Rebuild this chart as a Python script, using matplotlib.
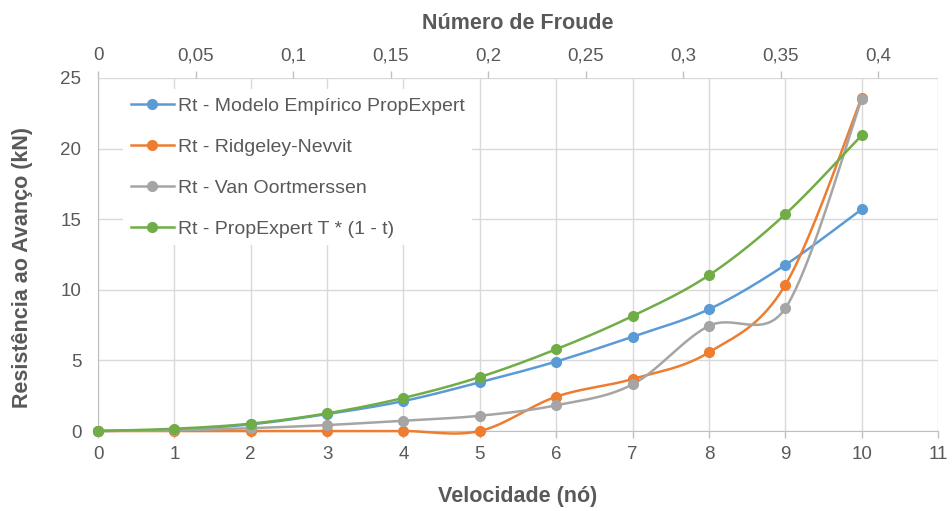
import numpy as np
import matplotlib
matplotlib.use("Agg")
import matplotlib.pyplot as plt
from matplotlib.ticker import FixedLocator, FuncFormatter

plt.rcParams['font.family'] = ['Liberation Sans', 'DejaVu Sans']

# Velocidade (nós) e resistência ao avanço (kN)
velocidade = [0, 1, 2, 3, 4, 5, 6, 7, 8, 9, 10]
rt_propexpert = [0.0, 0.1, 0.47, 1.2, 2.12, 3.45, 4.92, 6.68, 8.62, 11.76, 15.7]
rt_ridgeley = [0.0, 0.0, 0.0, 0.0, 0.0, 0.0, 2.43, 3.68, 5.57, 10.34, 23.6]
rt_oortmerssen = [0.0, 0.05, 0.2, 0.42, 0.73, 1.08, 1.82, 3.3, 7.44, 8.69, 23.5]
rt_thrust = [0.0, 0.16, 0.52, 1.25, 2.34, 3.82, 5.79, 8.14, 11.03, 15.35, 20.94]

series_labels = [
    "Rt - Modelo Empírico PropExpert",
    "Rt - Ridgeley-Nevvit",
    "Rt - Van Oortmerssen",
    "Rt - PropExpert T * (1 - t)",
]
series_colors = ["#5B9BD5", "#ED7D31", "#A5A5A5", "#70AD47"]

# Número de Froude por nó de velocidade
froude_per_knot = 0.03914
froude_ticks = [0, 0.05, 0.1, 0.15, 0.2, 0.25, 0.3, 0.35, 0.4]

TEXT = "#595959"
GRID = "#D9D9D9"
AXIS = "#BFBFBF"

fig = plt.figure(figsize=(9.52, 5.11), dpi=100)
ax = fig.add_axes([98 / 952, 1 - 431 / 511, (938 - 98) / 952, (431 - 78) / 511])

XMAX, YMAX = 11, 25
ax.set_xlim(0, XMAX)
ax.set_ylim(0, YMAX)

# pixel scale used by the smoothing (distances measured on screen)
sx = (938 - 98) / XMAX
sy = (431 - 78) / YMAX


def smooth_curve(xs, ys, n=40):
    """Bezier smoothing of a polyline, in the style of spreadsheet 'smoothed lines'."""
    P = np.column_stack([np.asarray(xs, float) * sx, np.asarray(ys, float) * sy])
    out = [P[0]]
    m = len(P)
    for i in range(m - 1):
        p0 = P[i - 1] if i > 0 else P[i]
        p1, p2 = P[i], P[i + 1]
        p3 = P[i + 2] if i + 2 < m else P[i + 1]
        d02 = np.hypot(*(p2 - p0))
        d12 = np.hypot(*(p2 - p1))
        d13 = np.hypot(*(p3 - p1))
        fa = 1 / 6 if d02 / 6 < d12 / 2 or d02 == 0 else d12 / (2 * d02)
        fb = 1 / 6 if d13 / 6 < d12 / 2 or d13 == 0 else d12 / (2 * d13)
        c1 = p1 + fa * (p2 - p0)
        c2 = p2 - fb * (p3 - p1)
        t = np.linspace(0, 1, n)[1:, None]
        seg = ((1 - t) ** 3) * p1 + 3 * ((1 - t) ** 2) * t * c1 + 3 * (1 - t) * t ** 2 * c2 + t ** 3 * p2
        out.extend(seg)
    out = np.array(out)
    return out[:, 0] / sx, out[:, 1] / sy


all_series = [rt_propexpert, rt_ridgeley, rt_oortmerssen, rt_thrust]
handles = []
for vals, lab, col in zip(all_series, series_labels, series_colors):
    cx, cy = smooth_curve(velocidade, vals)
    ax.plot(cx, cy, color=col, lw=1.8, solid_capstyle='round', zorder=3, clip_on=False)
    ax.plot(velocidade, vals, 'o', color=col, ms=7, zorder=4, clip_on=False)
    h, = ax.plot([], [], '-o', color=col, lw=1.8, ms=7, label=lab)
    handles.append(h)

# grid and axes styling
ax.set_xticks(range(0, XMAX + 1))
ax.set_yticks(range(0, YMAX + 1, 5))
ax.grid(True, color=GRID, lw=1.0, zorder=0)
ax.set_axisbelow(True)
for s in ["top", "right"]:
    ax.spines[s].set_visible(False)
ax.spines["left"].set_color(AXIS)
ax.spines["bottom"].set_color(AXIS)
ax.tick_params(axis='x', colors=AXIS, length=5, width=1, labelcolor=TEXT, labelsize=13.5, pad=6)
ax.tick_params(axis='y', length=0, labelcolor=TEXT, labelsize=13.5, pad=12)

ax.set_xlabel("Velocidade (nó)", fontsize=15.5, fontweight='bold', color=TEXT)
ax.xaxis.set_label_coords(0.5, (431 - 486) / 353)
ax.set_ylabel("Resistência ao Avanço (kN)", fontsize=15.5, fontweight='bold', color=TEXT)
ax.yaxis.set_label_coords((33 - 98) / 840, (431 - 268) / 353)

# secondary axis: Froude number
top = ax.twiny()
top.set_xlim(0, XMAX * froude_per_knot)
top.xaxis.set_major_locator(FixedLocator(froude_ticks))
top.xaxis.set_major_formatter(FuncFormatter(lambda v, p: f"{v:g}".replace('.', ',')))
for s in ["top", "right", "left", "bottom"]:
    top.spines[s].set_visible(False)
top.tick_params(axis='x', colors=AXIS, length=5, width=1, labelcolor=TEXT, labelsize=13.5, pad=5)
top.set_xlabel("Número de Froude", fontsize=15.5, fontweight='bold', color=TEXT)
top.xaxis.set_label_coords(0.5, (431 - 29) / 353)

leg = ax.legend(handles=handles, loc='upper left', bbox_to_anchor=(0.03, 0.968),
                frameon=True, fancybox=False, fontsize=14, labelcolor=TEXT,
                handlelength=2.2, handletextpad=0.2, labelspacing=1.2,
                borderpad=0.4, borderaxespad=0)
leg.get_frame().set_facecolor('white')
leg.get_frame().set_edgecolor('none')
leg.get_frame().set_alpha(1)
leg.set_zorder(5)

fig.savefig("out.png", dpi=100, facecolor='white')
